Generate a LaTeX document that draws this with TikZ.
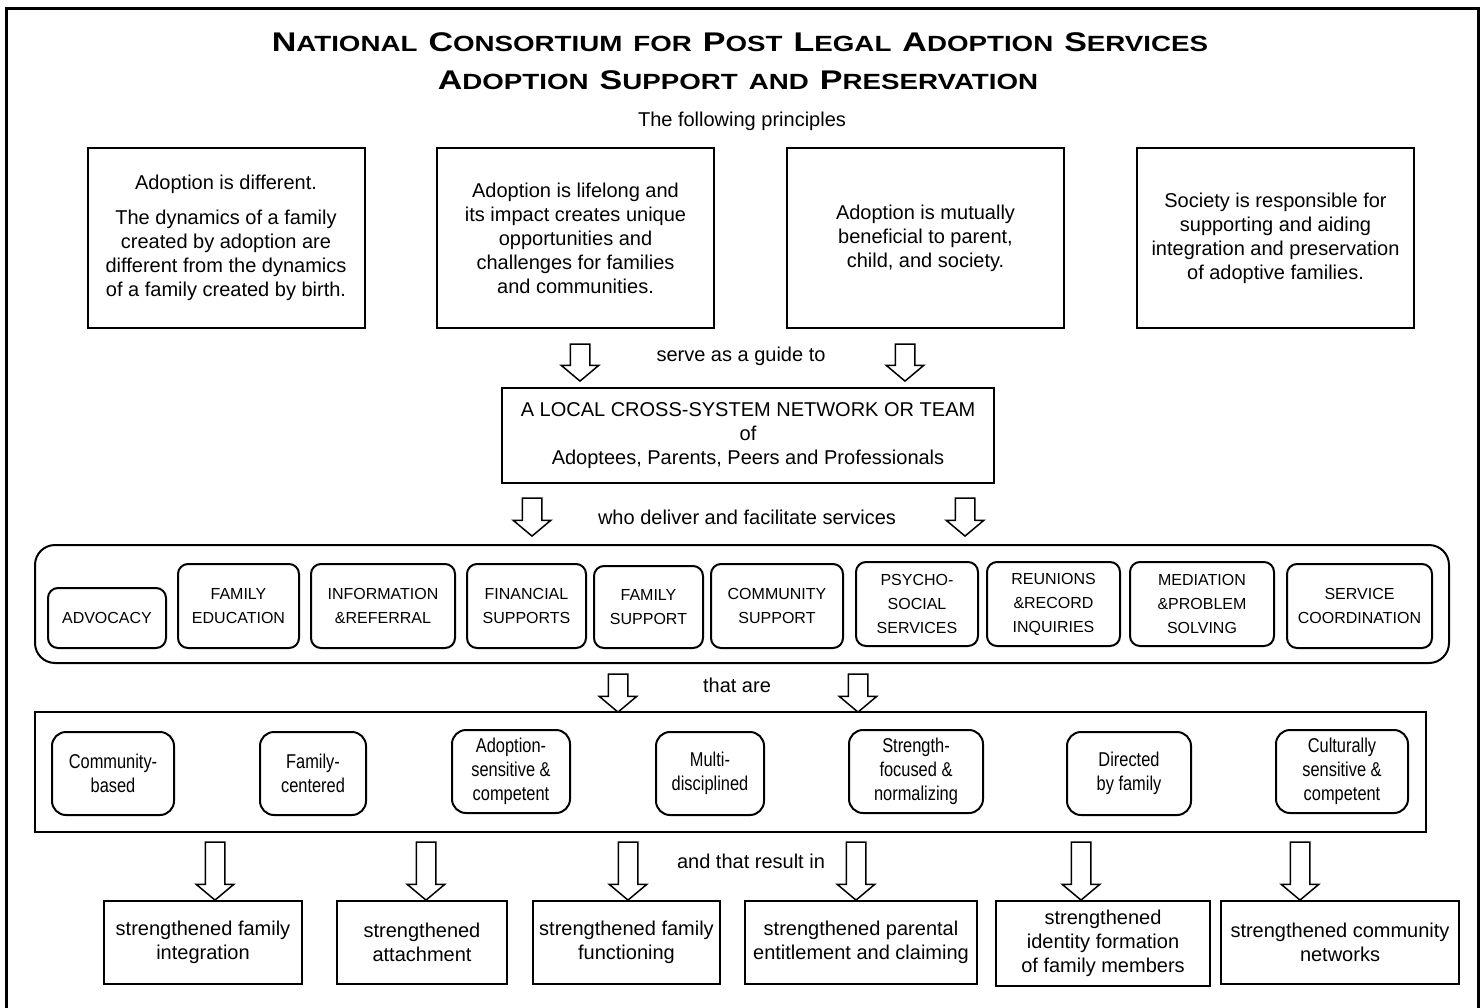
\documentclass[tikz,border=0pt]{standalone}
\usepackage{fontspec}
\setmainfont{Liberation Sans}
\newfontfamily\narrowfont[FakeStretch=0.82]{Liberation Sans}
\newfontfamily\widefont[FakeStretch=1.26]{Liberation Sans}
\usetikzlibrary{shapes.arrows}
\newcommand\capword[2]{{\fontsize{27}{34}\selectfont #1}{\fontsize{22}{34}\selectfont #2}}
\newcommand\gap{\hspace{11pt}}

\begin{document}
\begin{tikzpicture}[x=1pt,y=-1pt]
        \tikzstyle{every node}=[font=\fontsize{20}{24}\selectfont, align=center, inner sep=0pt]
        \tikzstyle{principle}=[draw, line width=2pt, minimum width=277pt, minimum height=180pt]
        \tikzstyle{service}=[draw, line width=2pt, rounded corners=10pt, minimum height=84pt, font=\fontsize{16}{24}\selectfont]
        \tikzstyle{quality}=[draw, line width=2pt, rounded corners=14pt, minimum height=83pt, font=\narrowfont\fontsize{20}{24}\selectfont]
        \tikzstyle{result}=[draw, line width=2pt, minimum height=83pt]
        \tikzstyle{bigarrow}=[draw, single arrow, shape border rotate=270, line width=1.5pt, inner sep=9pt, single arrow head extend=9pt, single arrow tip angle=100, minimum width=36pt]

        \useasboundingbox (0,0) rectangle (1483,1007);
        \draw[line width=3pt] (6,1030) -- (6,8) -- (1478,8) -- (1478,1030);

        % title
        \node[font=\widefont\bfseries] (title1) at (740,42) {\capword{N}{ATIONAL}\gap\capword{C}{ONSORTIUM}\gap\capword{}{FOR}\gap\capword{P}{OST}\gap\capword{L}{EGAL}\gap\capword{A}{DOPTION}\gap\capword{S}{ERVICES}};
        \node[font=\widefont\bfseries] (title2) at (738,80) {\capword{A}{DOPTION}\gap\capword{S}{UPPORT}\gap\capword{}{AND}\gap\capword{P}{RESERVATION}};
        \node (intro) at (742,121) {The following principles};

        % principles
        \node[principle] (p1) at (226,238) {Adoption is different.\\[11pt]The dynamics of a family\\created by adoption are\\different from the dynamics\\of a family created by birth.};
        \node[principle] (p2) at (575.5,238) {Adoption is lifelong and\\its impact creates unique\\opportunities and\\challenges for families\\and communities.};
        \node[principle] (p3) at (925.5,238) {Adoption is mutually\\beneficial to parent,\\child, and society.};
        \node[principle] (p4) at (1275.5,238) {Society is responsible for\\supporting and aiding\\integration and preservation\\of adoptive families.};

        \node[bigarrow, minimum height=37pt] (guide1) at (580,358.5) {};
        \node[bigarrow, minimum height=37pt] (guide2) at (905,358.5) {};
        \node (guidetext) at (741,356) {serve as a guide to};

        \node[draw, line width=2pt, minimum width=492pt, minimum height=95pt] (team) at (748,435.5) {A LOCAL CROSS-SYSTEM NETWORK OR TEAM\\of\\Adoptees, Parents, Peers and Professionals};

        \node[bigarrow, minimum height=38pt] (deliver1) at (532,513) {};
        \node[bigarrow, minimum height=38pt] (deliver2) at (965,513) {};
        \node (delivertext) at (747,517) {who deliver and facilitate services};

        % services
        \node[draw, line width=2pt, rounded corners=20pt, minimum width=1414pt, minimum height=118pt] (services) at (742,604) {};
        \node[service, minimum width=118pt, minimum height=60pt] (advocacy) at (107,618) {ADVOCACY};
        \node[service, minimum width=121pt] (education) at (238.5,606) {FAMILY\\EDUCATION};
        \node[service, minimum width=144pt] (information) at (383,606) {INFORMATION\\\&REFERRAL};
        \node[service, minimum width=119pt] (financial) at (526.5,606) {FINANCIAL\\SUPPORTS};
        \node[service, minimum width=109pt, minimum height=82pt] (familysupport) at (648.5,607) {FAMILY\\SUPPORT};
        \node[service, minimum width=132pt] (community) at (777,606) {COMMUNITY\\SUPPORT};
        \node[service, minimum width=122pt] (psycho) at (917,604) {PSYCHO-\\SOCIAL\\SERVICES};
        \node[service, minimum width=133pt] (reunions) at (1053.5,604) {REUNIONS\\\&RECORD\\INQUIRIES};
        \node[service, minimum width=144pt] (mediation) at (1202,604) {MEDIATION\\\&PROBLEM\\SOLVING};
        \node[service, minimum width=145pt] (coordination) at (1359.5,606) {SERVICE\\COORDINATION};

        \node[bigarrow, minimum height=38pt] (are1) at (618,689) {};
        \node[bigarrow, minimum height=38pt] (are2) at (858,689) {};
        \node (aretext) at (737,685) {that are};

        % qualities
        \node[draw, line width=2pt, minimum width=1391pt, minimum height=120pt] (qualities) at (730.5,772) {};
        \node[quality, minimum width=122pt] (communitybased) at (113,773.5) {Community-\\based};
        \node[quality, minimum width=106pt] (familycentered) at (313,773.5) {Family-\\centered};
        \node[quality, minimum width=118pt] (sensitive) at (511,771.5) {Adoption-\\sensitive \&\\competent};
        \node[quality, minimum width=108pt] (multi) at (710,773.5) {Multi-\\disciplined};
        \node[quality, minimum width=134pt] (strength) at (916,771.5) {Strength-\\focused \&\\normalizing};
        \node[quality, minimum width=124pt] (directed) at (1129,773.5) {Directed\\by family};
        \node[quality, minimum width=132pt] (cultural) at (1342,771.5) {Culturally\\sensitive \&\\competent};

        \node[bigarrow, minimum height=58pt] (res1) at (215,867) {};
        \node[bigarrow, minimum height=58pt] (res2) at (426,867) {};
        \node[bigarrow, minimum height=58pt] (res3) at (628,867) {};
        \node[bigarrow, minimum height=58pt] (res4) at (856,867) {};
        \node[bigarrow, minimum height=58pt] (res5) at (1081,867) {};
        \node[bigarrow, minimum height=58pt] (res6) at (1300,867) {};
        \node (resulttext) at (751,861) {and that result in};

        % results
        \node[result, minimum width=198pt] (integration) at (203,942.5) {strengthened family\\integration};
        \node[result, minimum width=170pt] (attachment) at (422,942.5) {strengthened\\attachment};
        \node[result, minimum width=187pt] (functioning) at (626.5,942.5) {strengthened family\\functioning};
        \node[result, minimum width=232pt] (entitlement) at (861,942.5) {strengthened parental\\entitlement and claiming};
        \node[result, minimum width=214pt, minimum height=85pt] (identity) at (1103,943.5) {strengthened\\identity formation\\of family members};
        \node[result, minimum width=238pt] (networks) at (1340,942.5) {strengthened community\\networks};

    \end{tikzpicture}
\end{document}
